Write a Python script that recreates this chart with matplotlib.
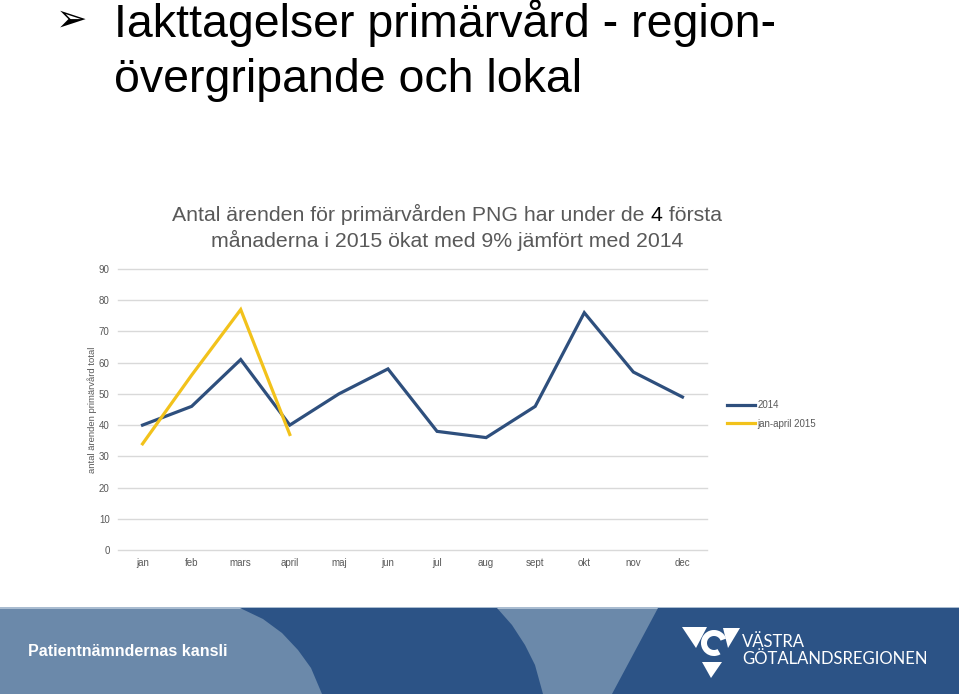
import matplotlib
matplotlib.use("Agg")
import matplotlib.pyplot as plt
from matplotlib.patches import Polygon, Rectangle, Wedge

# ---------------- data ----------------
months = ["jan", "feb", "mars", "april", "maj", "jun", "jul", "aug", "sept", "okt", "nov", "dec"]
values_2014 = [40, 46, 61, 40, 50, 58, 38, 36, 46, 76, 57, 49]
values_2015 = [34, 56, 77, 37]
yticks = [0, 10, 20, 30, 40, 50, 60, 70, 80, 90]
series_labels = ["2014", "jan-april 2015"]

# ---------------- style ----------------
NAVY = "#2e4f7d"
YELLOW = "#f2c21b"
GRAY = "#595959"
GRID = "#d9d9d9"
FOOT_LIGHT = "#6b89aa"
FOOT_DARK = "#2c5386"
W, H = 959, 694
SANS = ["Liberation Sans", "DejaVu Sans"]

fig = plt.figure(figsize=(W / 100, H / 100), dpi=100)
bg = fig.add_axes([0, 0, 1, 1], zorder=0)
bg.set_xlim(0, W)
bg.set_ylim(H, 0)
bg.axis("off")

# ---------------- footer band ----------------
FT = 608
bg.add_patch(Rectangle((0, FT), W, H - FT, color=FOOT_LIGHT, lw=0))
bg.add_patch(Rectangle((0, FT - 1.5), W, 2, color="#a9bcd0", lw=0))
left_curve = [(240, FT), (263, 619), (282, 633), (298, 650), (311, 668), (322, H)]
right_curve = [(543, H), (535, 665), (525, 645), (512, 625), (497, FT)]
bg.add_patch(Polygon(left_curve + right_curve, closed=True, color=FOOT_DARK, lw=0))
bg.add_patch(Polygon([(658, FT), (W, FT), (W, H), (612, H)], closed=True, color=FOOT_DARK, lw=0))

bg.text(28, 656, "Patientnämndernas kansli", color="white", fontsize=11.5, fontweight="bold",
        family=SANS, va="baseline")

# logo (simplified)
bg.add_patch(Polygon([(682, 627), (707, 627), (696, 648)], closed=True, color="white", lw=0))
bg.add_patch(Polygon([(723, 628), (740, 628), (728, 648)], closed=True, color="white", lw=0))
bg.add_patch(Polygon([(702, 662), (722, 662), (711, 678)], closed=True, color="white", lw=0))
bg.add_patch(Wedge((714, 643), 13, 60, 340, width=6, color="white", lw=0))
bg.text(742, 647, "VÄSTRA", color="white", fontsize=12, family=["Lato", "DejaVu Sans"], va="baseline")
bg.text(742, 664, "GÖTALANDSREGIONEN", color="white", fontsize=12, family=["Lato", "DejaVu Sans"],
        va="baseline")

# ---------------- slide heading ----------------
bg.text(56, 21, "➢", color="black", fontsize=27, family=["DejaVu Sans"], va="center")
bg.text(114, 37, "Iakttagelser primärvård - region-", color="black", fontsize=33.5,
        family=SANS, va="baseline")
bg.text(114, 92, "övergripande och lokal", color="black", fontsize=33.5,
        family=SANS, va="baseline")

# ---------------- chart title (with black "4") ----------------
tsize = 15.3
parts = [("Antal ärenden för primärvården PNG har under de ", GRAY), ("4", "black"), (" första", GRAY)]
p_texts = [bg.text(0, 221, s, color=c, fontsize=tsize, family=SANS, va="baseline") for s, c in parts]
line2 = bg.text(447, 247, "månaderna i 2015 ökat med 9% jämfört med 2014", color=GRAY,
                fontsize=tsize, family=SANS, va="baseline", ha="center")

# ---------------- chart ----------------
ax = fig.add_axes([118 / W, 1 - 550 / H, (707 - 118) / W, (550 - 269) / H], zorder=2)
ax.patch.set_alpha(0)
x_all = list(range(len(months)))
ax.plot(x_all, values_2014, color=NAVY, lw=2.3, solid_joinstyle="miter", label=series_labels[0])
ax.plot(x_all[:len(values_2015)], values_2015, color=YELLOW, lw=2.3, solid_joinstyle="miter",
        label=series_labels[1])
ax.set_xlim(-0.5, len(months) - 0.5)
ax.set_ylim(0, 90)
ax.set_yticks(yticks)
ax.set_xticks(x_all)
ax.set_xticklabels(months)
ax.yaxis.grid(True, color=GRID, lw=1)
for gl in ax.get_ygridlines():
    gl.set_clip_on(False)
ax.set_axisbelow(True)
for s in ax.spines.values():
    s.set_visible(False)
ax.tick_params(axis="both", length=0, labelsize=7, labelcolor=GRAY)
for lab in ax.get_xticklabels() + ax.get_yticklabels():
    lab.set_family(SANS)
ax.tick_params(axis="y", pad=6)
ax.tick_params(axis="x", pad=6)
ax.set_ylabel("antal ärenden primärvård total", fontsize=6.8, color=GRAY, labelpad=1, family=SANS)

ax.legend(loc="center left", bbox_to_anchor=(727 / W, 1 - 414.5 / H), bbox_transform=fig.transFigure,
          frameon=False, prop={"family": SANS, "size": 7}, labelcolor=GRAY, handlelength=2.9,
          handletextpad=0.2, labelspacing=0.9, borderpad=0, borderaxespad=0)

# position title parts centered
fig.canvas.draw()
r = fig.canvas.get_renderer()
widths = [t.get_window_extent(r).width for t in p_texts]
x0 = 447 - sum(widths) / 2
for t, w in zip(p_texts, widths):
    t.set_x(x0)
    x0 += w

fig.savefig("out.png", dpi=100)
